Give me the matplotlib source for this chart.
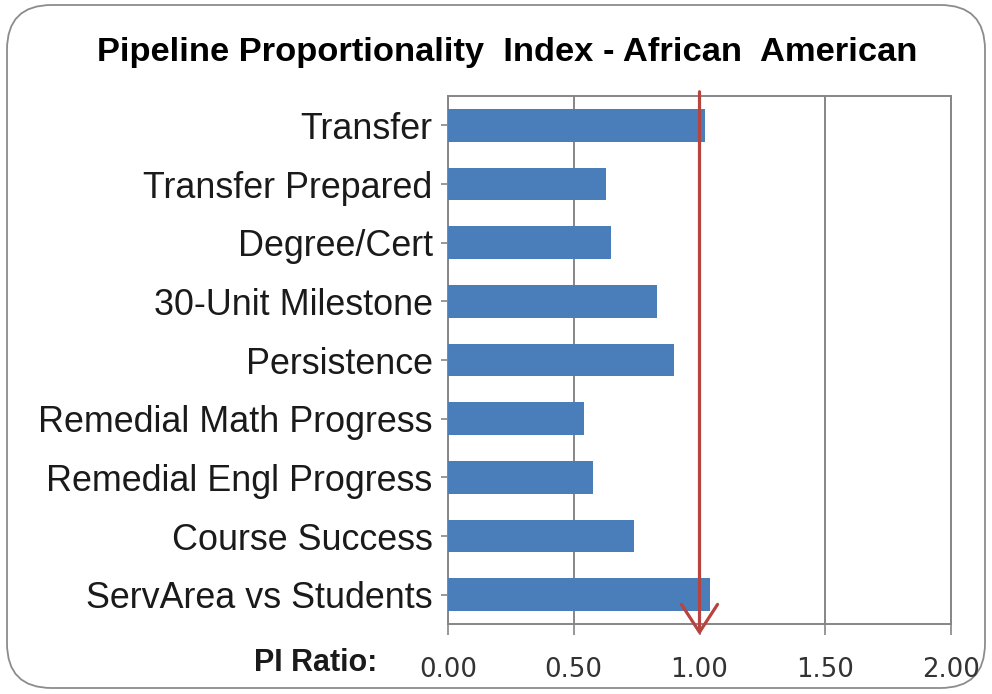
import matplotlib
matplotlib.use("Agg")
import matplotlib.pyplot as plt
from matplotlib.patches import FancyBboxPatch, FancyArrowPatch
from matplotlib.transforms import blended_transform_factory

categories = [
    "Transfer",
    "Transfer Prepared",
    "Degree/Cert",
    "30-Unit Milestone",
    "Persistence",
    "Remedial Math Progress",
    "Remedial Engl Progress",
    "Course Success",
    "ServArea vs Students",
]
pi_ratio = [1.02, 0.63, 0.65, 0.83, 0.90, 0.54, 0.575, 0.74, 1.04]
x_ticks = [0.0, 0.5, 1.0, 1.5, 2.0]
x_tick_labels = ["0.00", "0.50", "1.00", "1.50", "2.00"]
parity = 1.0

title = "Pipeline Proportionality  Index - African  American"
axis_caption = "PI Ratio:"

plt.rcParams["font.family"] = ["Liberation Sans", "DejaVu Sans"]

W, H = 992, 694
fig = plt.figure(figsize=(W / 100, H / 100), dpi=100)
fig.patch.set_facecolor("white")

# rounded frame around the whole chart
frame = FancyBboxPatch(
    (7 / W, 6 / H), (985 - 7) / W, (689 - 6) / H,
    boxstyle="round,pad=0,rounding_size=0.045",
    transform=fig.transFigure, facecolor="none", edgecolor="#8c8c8c",
    linewidth=1.3, zorder=0, mutation_aspect=W / H,
)
fig.patches.append(frame)

ax = fig.add_axes([448 / W, (H - 624) / H, (951 - 448) / W, (624 - 96) / H])
ax.set_facecolor("none")
ax.set_zorder(2)

ypos = list(range(len(categories)))
ax.barh(ypos, pi_ratio, height=0.56, color="#4A7EBB", zorder=3)

ax.set_ylim(len(categories) - 0.5, -0.5)
ax.set_xlim(0, 2.0)
ax.set_yticks(ypos)
ax.set_yticklabels(categories, fontsize=25.8, color="#1a1a1a")
ax.set_xticks(x_ticks)
ax.set_xticklabels(x_tick_labels, fontsize=18.7, color="#333333",
                   family="DejaVu Sans")

ax.tick_params(axis="y", length=5, width=1.2, color="#868686", pad=6)
ax.tick_params(axis="x", length=8, width=1.2, color="#868686", pad=16)

ax.grid(axis="x", color="#868686", linewidth=1.4, zorder=1)
ax.set_axisbelow(True)
for side in ["top", "bottom", "left", "right"]:
    ax.spines[side].set_color("#868686")
    ax.spines[side].set_linewidth(1.4)

# parity reference arrow at PI = 1.0
trans = blended_transform_factory(ax.transData, ax.transAxes)
arrow = FancyArrowPatch(
    (parity, 1.008), (parity, -0.021), transform=trans,
    arrowstyle="->,head_length=20,head_width=13", mutation_scale=1,
    color="#B8443F", linewidth=2.3, clip_on=False, zorder=5,
    shrinkA=0, shrinkB=0,
)
ax.add_patch(arrow)

fig.text(507 / W, 1 - 52 / H, title, ha="center", va="center",
         fontsize=24.8, fontweight="bold", color="black")
fig.text(377 / W, 1 - 663 / H, axis_caption, ha="right", va="center",
         fontsize=22, fontweight="bold", color="#1a1a1a")

fig.savefig("out.png", dpi=100)
